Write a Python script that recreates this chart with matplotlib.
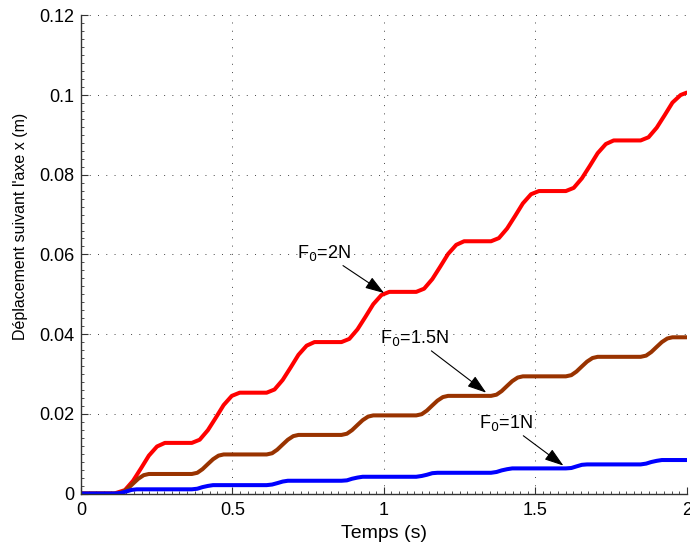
import matplotlib
matplotlib.use('Agg')
import matplotlib.pyplot as plt
from matplotlib.ticker import MultipleLocator

plt.rcParams['font.family'] = ['Liberation Sans', 'DejaVu Sans']

# ── data ──────────────────────────────────────────────────
t_2N = [0.0, 0.110, 0.145, 0.172, 0.198, 0.224, 0.251, 0.277,
        0.366, 0.392, 0.419, 0.445, 0.471, 0.498, 0.524,
        0.613, 0.639, 0.666, 0.692, 0.718, 0.745, 0.771,
        0.860, 0.886, 0.913, 0.939, 0.965, 0.992, 1.018,
        1.107, 1.133, 1.160, 1.186, 1.212, 1.239, 1.265,
        1.354, 1.380, 1.407, 1.433, 1.459, 1.486, 1.512,
        1.601, 1.627, 1.654, 1.680, 1.706, 1.733, 1.759,
        1.848, 1.874, 1.901, 1.927, 1.953, 1.980, 2.000]
x_2N = [0.0, 0.0, 0.00085, 0.0032, 0.0063, 0.0095, 0.0118, 0.0127,
        0.0127, 0.0135, 0.0159, 0.0190, 0.0222, 0.0245, 0.0253,
        0.0253, 0.0261, 0.0285, 0.0316, 0.0348, 0.0371, 0.0380,
        0.0380, 0.0388, 0.0412, 0.0443, 0.0475, 0.0498, 0.0506,
        0.0506, 0.0514, 0.0538, 0.0569, 0.0601, 0.0624, 0.0633,
        0.0633, 0.0641, 0.0665, 0.0696, 0.0728, 0.0751, 0.0759,
        0.0759, 0.0767, 0.0791, 0.0822, 0.0854, 0.0877, 0.0886,
        0.0886, 0.0894, 0.0918, 0.0949, 0.0981, 0.1000, 0.1006]

t_15N = [0.0, 0.112, 0.136, 0.154, 0.172, 0.189, 0.207, 0.224,
         0.366, 0.384, 0.401, 0.419, 0.436, 0.454, 0.471,
         0.613, 0.631, 0.648, 0.666, 0.683, 0.701, 0.718,
         0.860, 0.878, 0.895, 0.913, 0.930, 0.948, 0.965,
         1.107, 1.125, 1.142, 1.160, 1.177, 1.195, 1.212,
         1.354, 1.372, 1.389, 1.407, 1.424, 1.442, 1.459,
         1.601, 1.619, 1.636, 1.654, 1.671, 1.689, 1.706,
         1.848, 1.866, 1.883, 1.901, 1.918, 1.936, 1.953, 2.000]
x_15N = [0.0, 0.0, 0.0003, 0.0012, 0.0025, 0.0037, 0.0046, 0.0049,
         0.0049, 0.0052, 0.0061, 0.0074, 0.0086, 0.0095, 0.0098,
         0.0098, 0.0101, 0.0110, 0.0123, 0.0135, 0.0144, 0.0147,
         0.0147, 0.0150, 0.0159, 0.0172, 0.0184, 0.0193, 0.0196,
         0.0196, 0.0199, 0.0208, 0.0221, 0.0233, 0.0242, 0.0245,
         0.0245, 0.0248, 0.0257, 0.0270, 0.0282, 0.0291, 0.0294,
         0.0294, 0.0297, 0.0306, 0.0319, 0.0331, 0.0340, 0.0343,
         0.0343, 0.0346, 0.0355, 0.0368, 0.0380, 0.0389, 0.0392, 0.0392]

t_1N = [0.0, 0.114, 0.132, 0.149, 0.167, 0.184,
        0.366, 0.384, 0.401, 0.419, 0.436,
        0.613, 0.631, 0.648, 0.666, 0.683,
        0.860, 0.878, 0.895, 0.913, 0.930,
        1.107, 1.125, 1.142, 1.160, 1.177,
        1.354, 1.372, 1.389, 1.407, 1.424,
        1.601, 1.619, 1.636, 1.654, 1.671,
        1.848, 1.866, 1.883, 1.901, 1.918, 2.000]
x_1N = [0.0, 0.0, 0.00015, 0.0005, 0.0009, 0.00105,
        0.00105, 0.0012, 0.0016, 0.0019, 0.0021,
        0.0021, 0.00225, 0.0026, 0.0030, 0.0032,
        0.0032, 0.0033, 0.0037, 0.0040, 0.0042,
        0.0042, 0.0044, 0.0047, 0.0051, 0.0052,
        0.0052, 0.0054, 0.0058, 0.0061, 0.0063,
        0.0063, 0.0064, 0.0068, 0.0072, 0.0073,
        0.0073, 0.0075, 0.0079, 0.0082, 0.0084, 0.0084]

x_ticks = [0, 0.5, 1, 1.5, 2]
x_ticklabels = ['0', '0.5', '1', '1.5', '2']
y_ticks = [0, 0.02, 0.04, 0.06, 0.08, 0.1, 0.12]
y_ticklabels = ['0', '0.02', '0.04', '0.06', '0.08', '0.1', '0.12']

fig = plt.figure(figsize=(6.9, 5.47), dpi=100)
ax = fig.add_axes([0.1174, 0.0978, 0.8778, 0.8742])

style = dict(lw=2.9, solid_capstyle='round', solid_joinstyle='round')
ax.plot(t_2N, x_2N, color='#ff0000', **style)
ax.plot(t_15N, x_15N, color='#993300', **style)
ax.plot(t_1N, x_1N, color='#0000ff', **style)

ax.set_xlim(0, 2)
ax.set_ylim(0, 0.12)
ax.set_xticks(x_ticks)
ax.set_xticklabels(x_ticklabels)
ax.set_yticks(y_ticks)
ax.set_yticklabels(y_ticklabels)
ax.xaxis.set_minor_locator(MultipleLocator(0.025))
ax.yaxis.set_minor_locator(MultipleLocator(0.002))
ax.tick_params(which='both', direction='in', labelsize=13, color='#333333')
ax.tick_params(axis='x', which='major', length=5, pad=6)
ax.tick_params(axis='y', which='major', length=5, pad=5)
ax.tick_params(which='minor', length=2.5)

ax.grid(True, which='major', linestyle=(0, (1, 7.5)), color='#444444', lw=0.7)
for s in ['top', 'right']:
    ax.spines[s].set_visible(False)
for s in ['left', 'bottom']:
    ax.spines[s].set_color('#333333')
    ax.spines[s].set_linewidth(1.0)

ax.set_xlabel('Temps (s)', fontsize=14)
ax.xaxis.set_label_coords(0.5, -0.066)
ax.set_ylabel("Déplacement suivant l'axe x (m)", fontsize=11.5)
ax.yaxis.set_label_coords(-0.0875, 0.5596)

# annotations
arrow = dict(arrowstyle='-|>,head_length=0.9,head_width=0.3', color='black', lw=0.8,
             shrinkA=0, shrinkB=0)
ax.annotate('F$_0$=2N', xy=(1.001, 0.0503), xytext=(0.713, 0.0604), fontsize=13,
            va='center', ha='left', arrowprops=arrow)
ax.annotate('F$_0$=1.5N', xy=(1.338, 0.0253), xytext=(0.988, 0.0390), fontsize=13,
            va='center', ha='left', arrowprops=arrow)
ax.annotate('F$_0$=1N', xy=(1.593, 0.0070), xytext=(1.315, 0.0177), fontsize=13,
            va='center', ha='left', arrowprops=arrow)

fig.savefig('out.png', dpi=100)
